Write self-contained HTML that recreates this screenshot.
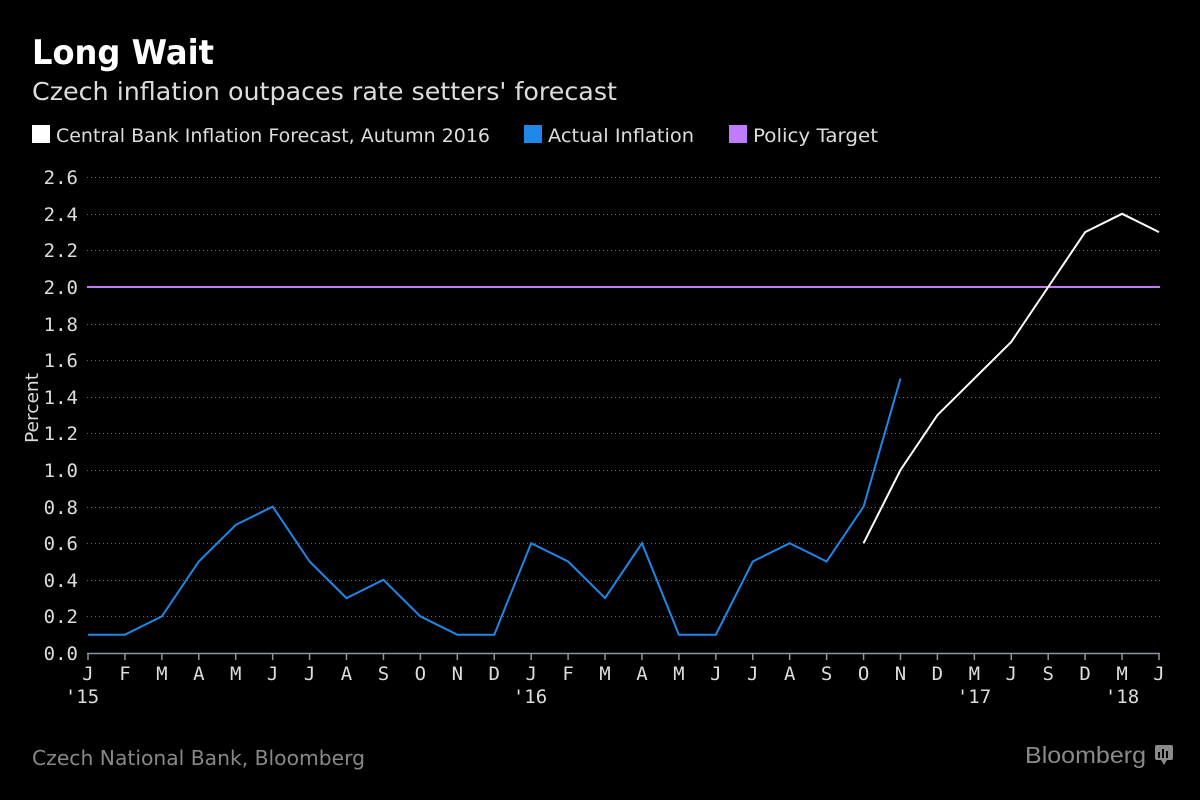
<!DOCTYPE html>
<html><head><meta charset="utf-8"><style>
html,body{margin:0;padding:0;background:#000;}
svg{display:block;}
.m{font-family:"DejaVu Sans Mono","Liberation Mono",monospace;}
</style></head><body>
<svg width="1200" height="800" viewBox="0 0 1200 800" xmlns="http://www.w3.org/2000/svg" font-family="DejaVu Sans, Liberation Sans, sans-serif">
<rect width="1200" height="800" fill="#000"/>
<text x="32" y="64" fill="#fff" font-size="34" font-weight="bold" textLength="182" lengthAdjust="spacingAndGlyphs">Long Wait</text>
<text x="32" y="100" fill="#ddd" font-size="25" textLength="585" lengthAdjust="spacingAndGlyphs">Czech inflation outpaces rate setters' forecast</text>
<rect x="32" y="125" width="18" height="18" fill="#fff"/>
<text x="56" y="142" fill="#ddd" font-size="19" textLength="434" lengthAdjust="spacingAndGlyphs">Central Bank Inflation Forecast, Autumn 2016</text>
<rect x="524" y="125" width="18" height="18" fill="#1f87e8"/>
<text x="548" y="142" fill="#ddd" font-size="19" textLength="146" lengthAdjust="spacingAndGlyphs">Actual Inflation</text>
<rect x="729" y="125" width="18" height="18" fill="#c07cff"/>
<text x="753" y="142" fill="#ddd" font-size="19" textLength="125" lengthAdjust="spacingAndGlyphs">Policy Target</text>

<g stroke="#666" stroke-width="1" stroke-dasharray="1,3">
<line x1="87" x2="1160" y1="177.5" y2="177.5"/><line x1="87" x2="1160" y1="214.5" y2="214.5"/>
<line x1="87" x2="1160" y1="250.5" y2="250.5"/><line x1="87" x2="1160" y1="287.5" y2="287.5"/>
<line x1="87" x2="1160" y1="324.5" y2="324.5"/><line x1="87" x2="1160" y1="360.5" y2="360.5"/>
<line x1="87" x2="1160" y1="397.5" y2="397.5"/><line x1="87" x2="1160" y1="433.5" y2="433.5"/>
<line x1="87" x2="1160" y1="470.5" y2="470.5"/><line x1="87" x2="1160" y1="507.5" y2="507.5"/>
<line x1="87" x2="1160" y1="543.5" y2="543.5"/><line x1="87" x2="1160" y1="580.5" y2="580.5"/>
<line x1="87" x2="1160" y1="616.5" y2="616.5"/>
</g>
<g fill="#ddd" font-size="19" text-anchor="end" class="m">
<text x="78" y="184">2.6</text><text x="78" y="221">2.4</text><text x="78" y="257">2.2</text>
<text x="78" y="294">2.0</text><text x="78" y="331">1.8</text><text x="78" y="367">1.6</text>
<text x="78" y="404">1.4</text><text x="78" y="440">1.2</text><text x="78" y="477">1.0</text>
<text x="78" y="514">0.8</text><text x="78" y="550">0.6</text><text x="78" y="587">0.4</text>
<text x="78" y="623">0.2</text><text x="78" y="660">0.0</text>
</g>
<text transform="translate(38,443) rotate(-90)" fill="#ddd" font-size="18" textLength="70" lengthAdjust="spacingAndGlyphs">Percent</text>

<line x1="87" x2="1160" y1="653.5" y2="653.5" stroke="#8a96a3" stroke-width="1.5"/>
<g id="ticks" stroke="#8a96a3" stroke-width="1.5"></g>
<g id="xl" fill="#ddd" font-size="19" text-anchor="middle" class="m"></g>
<g fill="#ddd" font-size="19" text-anchor="middle" class="m">
<text x="82" y="703">'15</text>
<text x="530" y="703">'16</text>
<text x="974" y="703">'17</text>
<text x="1122" y="703">'18</text>
</g>

<line x1="87" x2="1160" y1="287" y2="287" stroke="#c07cff" stroke-width="2"/>
<polyline id="act" fill="none" stroke="#1f87e8" stroke-width="2"/>
<polyline id="fc" fill="none" stroke="#fff" stroke-width="2"/>

<text x="32" y="765" fill="#888" font-size="20" textLength="333" lengthAdjust="spacingAndGlyphs">Czech National Bank, Bloomberg</text>
<text x="1025" y="763" fill="#8a8a8a" font-size="23" font-family="Liberation Sans, sans-serif" textLength="121" lengthAdjust="spacingAndGlyphs">Bloomberg</text>
<rect x="1155" y="745" width="18" height="15" rx="2" fill="#8a8a8a"/>
<polygon points="1161,760 1167,760 1164,765" fill="#8a8a8a"/>
<g fill="#000"><rect x="1158" y="752" width="2" height="6"/><rect x="1162" y="749" width="2" height="9"/><rect x="1166" y="751" width="2" height="7"/></g>
</svg>
<script>
var x0=88,dx=(1159-88)/29,y=function(v){return 653-v/0.2*36.6;};
var labs="JFMAMJJASONDJFMAMJJASONDMJSDMJ".split("");
var t=document.getElementById("ticks"),l=document.getElementById("xl"),ns="http://www.w3.org/2000/svg";
labs.forEach(function(c,i){var x=x0+i*dx;
var ln=document.createElementNS(ns,"line");ln.setAttribute("x1",x);ln.setAttribute("x2",x);ln.setAttribute("y1",653);ln.setAttribute("y2",660);t.appendChild(ln);
var tx=document.createElementNS(ns,"text");tx.setAttribute("x",x);tx.setAttribute("y",680);tx.textContent=c;l.appendChild(tx);});
var a=[0.1,0.1,0.2,0.5,0.7,0.8,0.5,0.3,0.4,0.2,0.1,0.1,0.6,0.5,0.3,0.6,0.1,0.1,0.5,0.6,0.5,0.8,1.5];
document.getElementById("act").setAttribute("points",a.map(function(v,i){return (x0+i*dx)+","+y(v);}).join(" "));
var f=[0.6,1.0,1.3,1.5,1.7,2.0,2.3,2.4,2.3];
document.getElementById("fc").setAttribute("points",f.map(function(v,i){return (x0+(21+i)*dx)+","+y(v);}).join(" "));
</script>
</body></html>
